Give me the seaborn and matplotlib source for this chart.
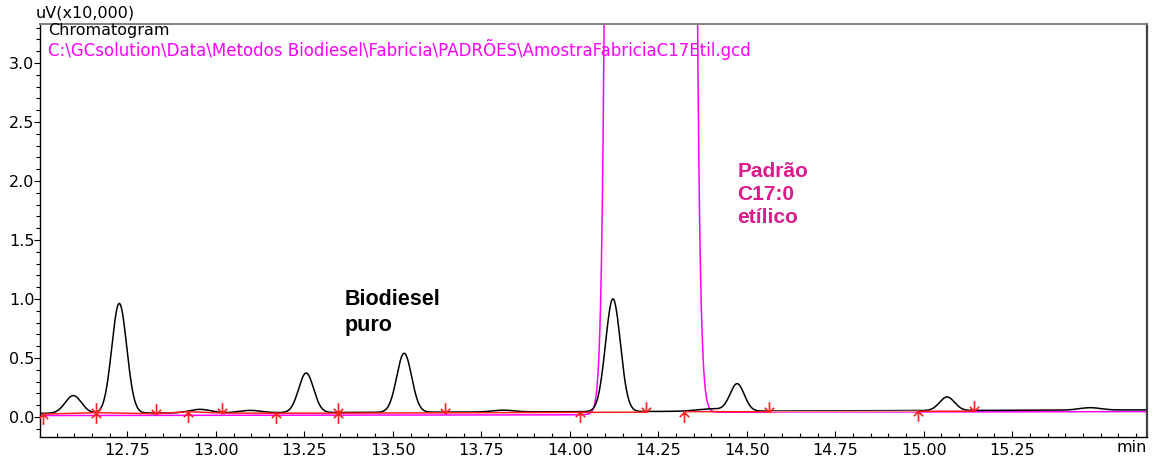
import numpy as np
import pandas as pd
import matplotlib
matplotlib.use("Agg")
import matplotlib.pyplot as plt
from matplotlib.path import Path
from matplotlib.ticker import MultipleLocator, FixedLocator
import seaborn as sns

# ---- sample chromatogram (black): retention time, height above baseline, peak width
sample_rt = [12.597, 12.727, 12.955, 13.097, 13.255, 13.532, 13.812, 14.122, 14.397, 14.473, 15.066, 15.470]
sample_height = [0.15, 0.93, 0.03, 0.02, 0.335, 0.50, 0.015, 0.955, 0.02, 0.23, 0.115, 0.02]
sample_sigma = [0.023, 0.021, 0.030, 0.030, 0.021, 0.021, 0.030, 0.021, 0.040, 0.020, 0.021, 0.030]
sample_base = [0.030, 0.060]          # baseline at start / end of run

# ---- internal standard C17:0 ethyl ester (magenta)
std_rt = [14.227]
std_height = [10000.0]
std_sigma_left = [0.0325]
std_sigma_right = [0.0335]
std_base = [0.012, 0.045]

# ---- integration marks: peak start / peak end / both
mark_start = [12.512, 12.922, 13.170, 14.029, 14.323, 14.984]
mark_end = [12.831, 13.018, 13.648, 14.216, 14.563, 15.142]
mark_both = [12.662, 13.345]

t_min, t_max = 12.503, 15.631
x_ticks = [12.75, 13.00, 13.25, 13.50, 13.75, 14.00, 14.25, 14.50, 14.75, 15.00, 15.25]
y_ticks = [0.0, 0.5, 1.0, 1.5, 2.0, 2.5, 3.0]

t = np.linspace(t_min, t_max, 4000)


def sample_signal(tt):
    y = np.interp(tt, [t_min, t_max], sample_base)
    for rt, h, s in zip(sample_rt, sample_height, sample_sigma):
        y = y + h * np.exp(-0.5 * ((tt - rt) / s) ** 2)
    return y


def std_signal(tt):
    y = np.interp(tt, [t_min, 14.00, 14.42, t_max],
                  [std_base[0], std_base[0] + 0.005, std_base[1] - 0.005, std_base[1]])
    for rt, h, sl, sr in zip(std_rt, std_height, std_sigma_left, std_sigma_right):
        s = np.where(tt < rt, sl, sr)
        y = y + h * np.exp(-0.5 * ((tt - rt) / s) ** 2)
    return y


df = pd.DataFrame({"t": t, "sample": sample_signal(t), "std": std_signal(t)})

sns.set_theme(style="white")
plt.rcParams["font.family"] = ["DejaVu Sans"]

fig = plt.figure(figsize=(11.53, 4.57), dpi=100)
ax = fig.add_axes([40 / 1153, 1 - 437 / 457, (1147 - 40) / 1153, (437 - 24) / 457])

sns.lineplot(data=df, x="t", y="std", ax=ax, color="#ff00ff", lw=1.1, sort=False)
sns.lineplot(data=df, x="t", y="sample", ax=ax, color="black", lw=1.1, sort=False)

# integration baselines
pts = np.array(sorted(mark_start + mark_end + mark_both))
base_y = sample_signal(pts) - 0.006
red = "#ff2020"
seg_a = pts <= 14.217
ax.plot(pts[seg_a], base_y[seg_a], color=red, lw=1.1, zorder=3)
seg_b = (pts >= 14.32) & (pts <= 14.564)
ax.plot(pts[seg_b], base_y[seg_b], color=red, lw=1.1, zorder=3)
seg_c = (pts >= 14.56) & (pts <= 14.985)
ax.plot(pts[seg_c], base_y[seg_c], color="#ff9090", lw=1.0, zorder=3)
seg_d = pts >= 14.98
ax.plot(pts[seg_d], base_y[seg_d], color=red, lw=1.1, zorder=3)

# arrow markers (tip at data point)
up_arrow = Path([(0, 0), (0, -1), (-0.45, -0.45), (0, 0), (0.45, -0.45)],
                [Path.MOVETO, Path.LINETO, Path.MOVETO, Path.LINETO, Path.LINETO])
down_arrow = Path([(0, 0), (0, 1), (-0.45, 0.45), (0, 0), (0.45, 0.45)],
                  [Path.MOVETO, Path.LINETO, Path.MOVETO, Path.LINETO, Path.LINETO])
for xs, mk in ((mark_start, up_arrow), (mark_end, down_arrow),
               (mark_both, up_arrow), (mark_both, down_arrow)):
    xs = np.array(xs)
    ax.plot(xs, sample_signal(xs) - 0.006, ls="none", marker=mk, ms=15,
            mec=red, mfc="none", mew=1.2, zorder=4)

ax.set_xlim(t_min, t_max)
ax.set_ylim(-0.17, 3.33)
ax.set_xlabel("")
ax.set_ylabel("")

ax.xaxis.set_major_locator(FixedLocator(x_ticks))
ax.xaxis.set_minor_locator(MultipleLocator(0.05))
ax.set_xticklabels([f"{v:.2f}" for v in x_ticks])
ax.yaxis.set_major_locator(FixedLocator(y_ticks))
ax.yaxis.set_minor_locator(MultipleLocator(0.1))
ax.set_yticklabels([f"{v:.1f}" for v in y_ticks])

ax.tick_params(axis="y", which="both", direction="out", left=True, labelsize=11.5,
               pad=0, colors="black")
ax.tick_params(axis="y", which="major", length=4, width=0.8)
ax.tick_params(axis="y", which="minor", length=3, width=0.8)
ax.tick_params(axis="x", which="both", direction="in", bottom=True, labelsize=11.5,
               pad=4, colors="black")
ax.tick_params(axis="x", which="major", length=4, width=0.8)
ax.tick_params(axis="x", which="minor", length=3, width=0.8)

for side, col, lw in (("left", "black", 1.0), ("bottom", "black", 1.0),
                      ("top", "#808080", 1.4), ("right", "#404040", 1.6)):
    ax.spines[side].set_visible(True)
    ax.spines[side].set_color(col)
    ax.spines[side].set_linewidth(lw)

# header texts
fig.text(36 / 1153, 1 - 5 / 457, "uV(x10,000)", fontsize=11.5, va="top", ha="left", color="black")
fig.text(48 / 1153, 1 - 23.5 / 457, "Chromatogram", fontsize=11.5, va="top", ha="left", color="black")
fig.text(48 / 1153, 1 - 39 / 457,
         "C:\\GCsolution\\Data\\Metodos Biodiesel\\Fabricia\\PADRÕES\\AmostraFabriciaC17Etil.gcd",
         fontsize=12, va="top", ha="left", color="#ff00ff")
fig.text(1147 / 1153, 1 - 440 / 457, "min", fontsize=11.5, va="top", ha="right", color="black")

# peak annotations
ax.text(13.365, 1.083, "Biodiesel\npuro", fontsize=15.5, fontweight="bold", color="black",
        va="top", ha="left", linespacing=1.29, family="Liberation Sans")
ax.text(14.473, 2.158, "Padrão\nC17:0\netílico", fontsize=15, fontweight="bold", color="#dd1a8c",
        va="top", ha="left", linespacing=1.25, family="Liberation Sans")

fig.savefig("out.png", dpi=100)
